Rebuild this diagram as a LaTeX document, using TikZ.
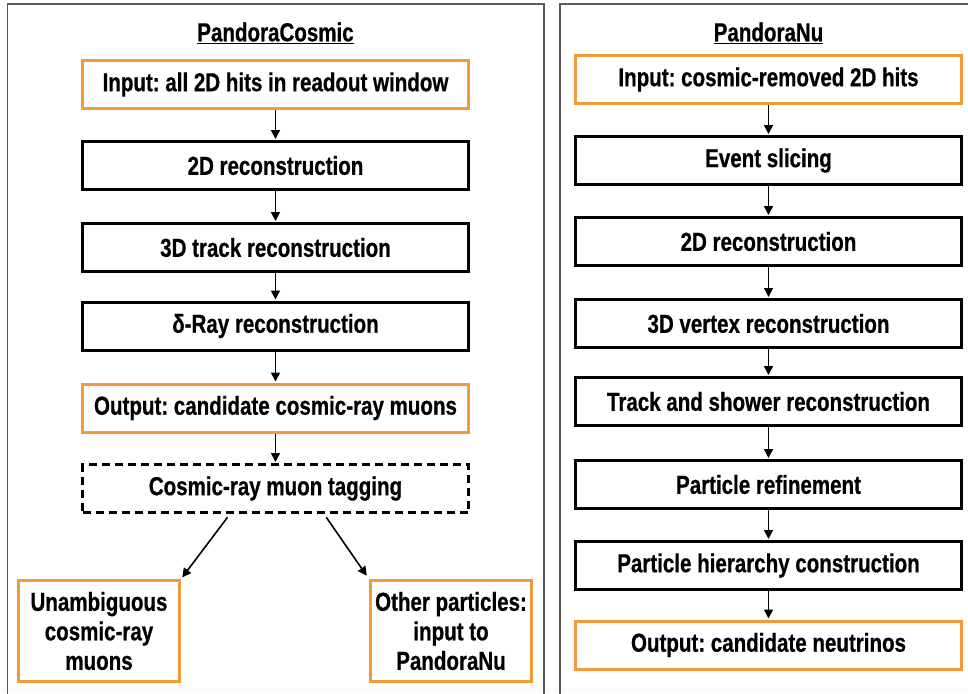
\documentclass[tikz,border=0pt]{standalone}
\usepackage{fontspec}
\usetikzlibrary{arrows.meta}
\newfontfamily\condfont{Liberation Sans}[FakeStretch=0.79,FakeBold=0.6]
\newcommand{\boxfont}{\frenchspacing\condfont\bfseries\fontsize{26}{29.5}\selectfont}
\definecolor{ioorange}{RGB}{243,154,58}
\definecolor{panelgray}{RGB}{90,90,90}
\begin{document}
\begin{tikzpicture}[x=1pt,y=-1pt,
  stepbox/.style={draw=black, line width=3pt, minimum width=386pt,
    minimum height=48pt, inner sep=0pt, font=\boxfont},
  iobox/.style={stepbox, draw=ioorange},
  tagbox/.style={stepbox, dash pattern=on 8pt off 5pt},
  endbox/.style={iobox, minimum width=161pt, minimum height=101pt,
    align=center},
  flow/.style={-{Triangle[length=9pt,width=9pt]}, line width=1.6pt,
    shorten >=1pt},
  panel/.style={draw=panelgray, line width=1.5pt},
  heading/.style={font=\boxfont, inner sep=0pt}]
\useasboundingbox (0,0) rectangle (968,693);
\clip (0,0) rectangle (968,693);
\fill[white] (0,0) rectangle (968,693);
\fill[gray!5] (0,688) rectangle (968,693);

% panel frames
\draw[panel] (7.5,700) -- (7.5,4) -- (544,4) -- (544,700);
\draw[panel] (560,700) -- (560,4) -- (975,4) -- (975,700);

% PandoraCosmic chain
\node[heading] (ct) at (275.5,33) {\underline{PandoraCosmic}};
\node[iobox]   (c1) at (275.5,84.5)  {Input: all 2D hits in readout window};
\node[stepbox] (c2) at (275.5,165.5) {2D reconstruction};
\node[stepbox] (c3) at (275.5,247.5) {3D track reconstruction};
\node[stepbox] (c4) at (275.5,326)   {δ-Ray reconstruction};
\node[iobox]   (c5) at (275.5,408)   {Output: candidate cosmic-ray muons};
\node[tagbox]  (c6) at (275.5,488.5) {Cosmic-ray muon tagging};
\node[endbox]  (c7) at (99,631)  {Unambiguous\\cosmic-ray\\muons};
\node[endbox]  (c8) at (451,631) {Other particles:\\input to\\PandoraNu};

\draw[flow] (c1) -- (c2);
\draw[flow] (c2) -- (c3);
\draw[flow] (c3) -- (c4);
\draw[flow] (c4) -- (c5);
\draw[flow] (c5) -- (c6);
\draw[flow, shorten <=4pt, shorten >=2pt] ([xshift=-45.5pt]c6.south) -- (c7.north east);
\draw[flow, shorten <=4pt, shorten >=4pt] ([xshift=48.5pt]c6.south) -- (c8.north west);

% PandoraNu chain
\node[heading] (nt) at (768.5,33) {\underline{PandoraNu}};
\node[iobox]   (n1) at (768.5,79.5)  {Input: cosmic-removed 2D hits};
\node[stepbox] (n2) at (768.5,160.5) {Event slicing};
\node[stepbox] (n3) at (768.5,241.5) {2D reconstruction};
\node[stepbox] (n4) at (768.5,323.5) {3D vertex reconstruction};
\node[stepbox] (n5) at (768.5,401.5) {Track and shower reconstruction};
\node[stepbox] (n6) at (768.5,484.5) {Particle refinement};
\node[stepbox] (n7) at (768.5,565.5) {Particle hierarchy construction};
\node[iobox]   (n8) at (768.5,645)   {Output: candidate neutrinos};

\draw[flow] (n1) -- (n2);
\draw[flow] (n2) -- (n3);
\draw[flow] (n3) -- (n4);
\draw[flow] (n4) -- (n5);
\draw[flow] (n5) -- (n6);
\draw[flow] (n6) -- (n7);
\draw[flow] (n7) -- (n8);
\end{tikzpicture}
\end{document}
